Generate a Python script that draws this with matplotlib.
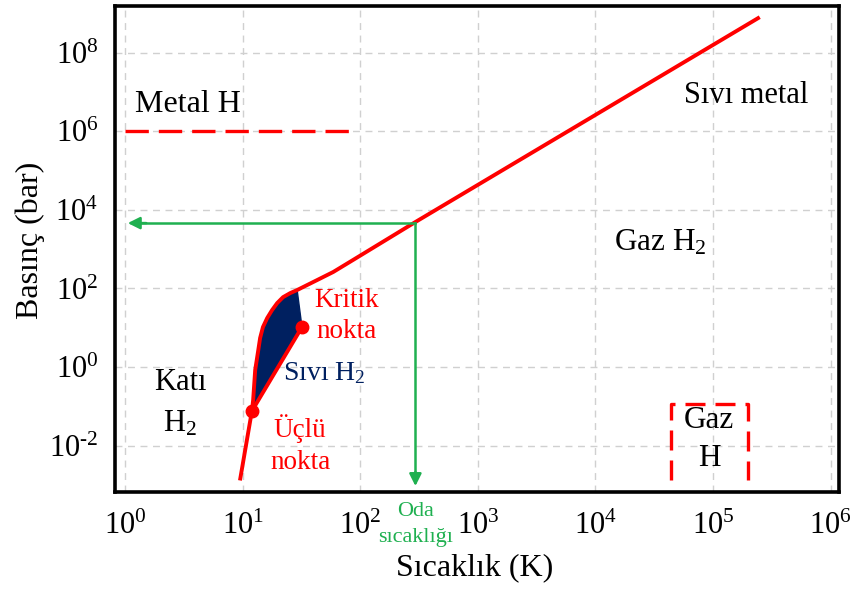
import matplotlib.pyplot as plt
import matplotlib.transforms as mtransforms
from matplotlib.ticker import FixedLocator, NullLocator

plt.rcParams["font.family"] = ["Liberation Serif", "DejaVu Serif"]
plt.rcParams["mathtext.fontset"] = "custom"
plt.rcParams["mathtext.rm"] = "Liberation Serif"
plt.rcParams["mathtext.it"] = "Liberation Serif:italic"

# ========= data =========
# solid/gas line below the triple point + melting curve + high-pressure line
boundary_T = [9.5, 12.0, 12.3, 12.8, 13.6, 14.1, 14.9, 16.2, 17.8, 19.7, 22.1,
              25.4, 29.1, 43, 59, 87, 295, 2.5e5]
boundary_P = [1.3e-3, 0.076, 0.145, 0.84, 2.7, 5.5, 10.4, 17.7, 28, 42.5, 60,
              76, 91, 163, 262, 530, 4900, 8e8]

# vapour-pressure line: triple point -> critical point
triple = (12.0, 0.076)
critical = (32.0, 10.4)

# liquid region (navy fill)
liquid_T = [12.0, 12.3, 12.8, 13.6, 14.1, 14.9, 16.2, 17.8, 19.7, 22.1, 25.4,
            29.1, 32.0, 12.0]
liquid_P = [0.076, 0.145, 0.84, 2.7, 5.5, 10.4, 17.7, 28, 42.5, 60, 76,
            91, 10.4, 0.076]

metal_T = [1.0, 85]
metal_P = [1e6, 1e6]

gasH_T = [4.4e4, 4.4e4, 2.0e5, 2.0e5]
gasH_P = [1.3e-3, 0.115, 0.115, 1.3e-3]

room_T = 295
room_P = 4600

xticks = [1e0, 1e1, 1e2, 1e3, 1e4, 1e5, 1e6]
yticks = [1e-2, 1e0, 1e2, 1e4, 1e6, 1e8]
xtick_labels = ["$10^{0}$", "$10^{1}$", "$10^{2}$", "$10^{3}$", "$10^{4}$", "$10^{5}$", "$10^{6}$"]
ytick_labels = [r"$10^{\text{-}2}$", "$10^{0}$", "$10^{2}$", "$10^{4}$", "$10^{6}$", "$10^{8}$"]

red = "#ff0000"
green = "#1fb050"
navy = "#002060"

fig = plt.figure(figsize=(8.55, 5.89), dpi=100)
ax = fig.add_axes([0.1345, 0.1647, 0.8465, 0.8253])
ax.set_xscale("log")
ax.set_yscale("log")
ax.set_xlim(10 ** -0.085, 10 ** 6.07)
ax.set_ylim(10 ** -3.18, 10 ** 9.19)

ax.xaxis.set_major_locator(FixedLocator(xticks))
ax.yaxis.set_major_locator(FixedLocator(yticks))
ax.xaxis.set_minor_locator(NullLocator())
ax.yaxis.set_minor_locator(NullLocator())
ax.set_xticklabels(xtick_labels)
ax.set_yticklabels(ytick_labels)
ax.tick_params(length=0, labelsize=22)
ax.tick_params(axis="x", pad=14)
ax.tick_params(axis="y", pad=12)
ax.grid(True, color="#d0d0d0", linestyle=(0, (5, 4)), linewidth=1.0)
for s in ax.spines.values():
    s.set_linewidth(2.6)
    s.set_color("black")

ax.fill(liquid_T, liquid_P, color=navy, zorder=2)
ax.plot(boundary_T, boundary_P, color=red, lw=2.8, zorder=3, solid_capstyle="butt")
ax.plot([triple[0], critical[0]], [triple[1], critical[1]], color=red, lw=2.8, zorder=3)
ax.plot([triple[0], critical[0]], [triple[1], critical[1]], "o", color=red, ms=9, zorder=4)

ax.plot(metal_T, metal_P, color=red, lw=2.4, dashes=(7, 3), zorder=3)
ax.plot(gasH_T, gasH_P, color=red, lw=2.4, dashes=(6, 3), zorder=3)

# room temperature arrows
ax.plot([room_T, room_T], [room_P, 10 ** -2.9], color=green, lw=1.8, zorder=3)
ax.plot([room_T, 1.25], [room_P, room_P], color=green, lw=1.8, zorder=3)
ax.annotate("", xy=(room_T, 10 ** -3.1), xytext=(room_T, 10 ** -2.6),
            arrowprops=dict(arrowstyle="-|>", color=green, lw=1.8, mutation_scale=18))
ax.annotate("", xy=(1.0, room_P), xytext=(1.6, room_P),
            arrowprops=dict(arrowstyle="-|>", color=green, lw=1.8, mutation_scale=18))

# labels
ax.text(3.4, 4.9e6, "Metal H", fontsize=23, ha="center", va="center")
ax.text(1.9e5, 8.3e6, "Sıvı metal", fontsize=22, ha="center", va="center")
ax.text(3.6e4, 1430, "Gaz H$_2$", fontsize=22.5, ha="center", va="center")
ax.text(77, 20, "Kritik\nnokta", fontsize=19.5, ha="center", va="center",
        color=red, linespacing=1.28)
ax.text(50, 0.7, "Sıvı H$_2$", fontsize=20, ha="center", va="center", color=navy)
ax.text(2.94, 0.12, "Katı\nH$_2$", fontsize=22, ha="center", va="center",
        linespacing=1.5)
ax.text(30.9, 0.0104, "Üçlü\nnokta", fontsize=19.5, ha="center", va="center",
        color=red, linespacing=1.36)
ax.text(9.3e4, 0.014, "Gaz\nH", fontsize=22.5, ha="center", va="center",
        linespacing=1.4)

trans = mtransforms.blended_transform_factory(ax.transData, ax.transAxes)
ax.text(room_T, -0.066, "Oda\nsıcaklığı", fontsize=16, ha="center", va="center",
        color=green, transform=trans, linespacing=1.5, clip_on=False)

ax.set_xlabel("Sıcaklık (K)", fontsize=23)
ax.set_ylabel("Basınç (bar)", fontsize=23)
ax.xaxis.set_label_coords(0.497, -0.125)
ax.yaxis.set_label_coords(-0.097, 0.518)

fig.savefig("out.png", dpi=100)
